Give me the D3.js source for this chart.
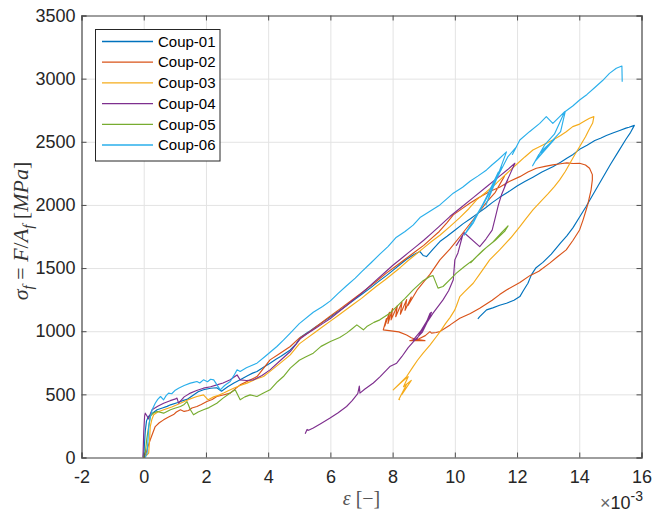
<!DOCTYPE html>
<html>
<head>
<meta charset="utf-8">
<script src="https://cdn.jsdelivr.net/npm/d3@7"></script>
<style>
  body { margin: 0; background: #fff; }
  svg { display: block; }
</style>
</head>
<body>
<svg id="plot1" width="654" height="513"></svg>
<script>
// strain values are in units of 1e-3, stress in MPa
var seriesNames = ["Coup-01", "Coup-02", "Coup-03", "Coup-04", "Coup-05", "Coup-06"];
var seriesColors = ["#0072BD", "#D95319", "#F5AC1B", "#7E2F8E", "#77AC30", "#2AAFEB"];
var xTicks = [-2, 0, 2, 4, 6, 8, 10, 12, 14, 16];
var yTicks = [0, 500, 1000, 1500, 2000, 2500, 3000, 3500];

var coup01 = [[0,0],[0.02,90],[0.05,210],[0.09,290],[0.15,325],[0.3,355],[0.43,378],[0.6,392],[0.75,405],[0.86,417],
  [1.1,435],[1.25,450],[1.39,460],[1.6,495],[1.75,520],[1.92,536],[2.15,548],[2.35,552],[2.5,525],[2.7,560],[2.9,590],
  [3.1,615],[3.35,650],[3.5,668],[3.64,681],[3.85,715],[4.06,747],[4.25,778],[4.4,800],[4.71,852],[4.9,900],[5.03,950],
  [5.3,995],[5.5,1030],[5.8,1080],[6.0,1113],[6.3,1165],[6.5,1200],[6.8,1255],[7.0,1290],[7.3,1345],[7.5,1385],
  [7.8,1440],[8.0,1480],[8.25,1530],[8.45,1570],[8.7,1610],[8.88,1631],[8.98,1600],[9.09,1591],[9.3,1650],[9.52,1710],
  [9.75,1752],[10.0,1800],[10.27,1852],[10.5,1890],[10.75,1935],[11.0,1980],[11.2,2018],[11.44,2060],[11.7,2100],
  [12.0,2150],[12.25,2185],[12.51,2220],[12.8,2260],[13.15,2303],[13.4,2338],[13.6,2370],[13.8,2400],[14.01,2440],
  [14.25,2472],[14.5,2510],[14.7,2530],[14.87,2550],[15.1,2572],[15.3,2590],[15.5,2608],[15.6,2615],[15.77,2630],
  [15.65,2575],[15.5,2520],[15.25,2420],[15.0,2320],[14.8,2235],[14.6,2150],[14.4,2065],[14.22,1987],[14.0,1900],
  [13.8,1820],[13.6,1755],[13.4,1700],[13.1,1610],[12.83,1545],[12.6,1500],[12.46,1446],[12.35,1380],[12.2,1320],
  [12.09,1274],[11.9,1245],[11.66,1222],[11.44,1205],[11.22,1185],[11.02,1169],[10.8,1116],[10.74,1098]];

var coup02 = [[0,0],[0.05,10],[0.12,75],[0.21,140],[0.3,200],[0.37,245],[0.5,275],[0.64,298],[0.8,320],[0.96,340],
  [1.05,360],[1.18,378],[1.3,365],[1.44,372],[1.55,392],[1.71,404],[1.85,420],[2.03,443],[2.2,460],[2.35,483],
  [2.55,495],[2.78,510],[2.95,545],[3.1,575],[3.35,605],[3.64,641],[3.85,705],[4.06,773],[4.35,820],[4.71,879],
  [5.0,945],[5.3,990],[5.65,1055],[6.0,1120],[6.3,1175],[6.6,1230],[6.9,1285],[7.2,1340],[7.5,1400],[7.8,1460],
  [8.1,1515],[8.4,1570],[8.7,1625],[9.0,1680],[9.25,1735],[9.5,1790],[9.75,1860],[9.95,1921],[10.2,1965],
  [10.48,2013],[10.75,2055],[11.02,2093],[11.25,2120],[11.44,2140],[11.75,2185],[12.09,2224],[12.35,2260],
  [12.62,2290],[12.9,2305],[13.15,2317],[13.4,2326],[13.6,2333],[13.8,2328],[14.01,2330],[14.2,2316],[14.33,2290],
  [14.42,2240],[14.42,2198],[14.38,2120],[14.33,2066],[14.28,2010],[14.22,1960],[14.12,1880],[14.01,1802],
  [13.8,1720],[13.58,1644],[13.3,1590],[13.05,1539],[12.7,1475],[12.41,1440],[12.09,1385],[11.66,1327],
  [11.44,1290],[11.2,1245],[10.8,1182],[10.5,1140],[10.16,1103],[9.85,1050],[9.52,997],[9.4,990],[9.25,985],
  [9.2,997],[9.05,965],[8.85,940],[8.66,932],[8.55,925],[9.04,925],[8.75,935],[8.6,948],[8.45,970],[8.2,995],
  [7.7,1011],[7.8,1100],[7.75,1040],[7.9,1150],[7.85,1060],[8.0,1180],[7.95,1090],[8.15,1200],[8.1,1115],
  [8.3,1230],[8.25,1135],[8.45,1250],[8.4,1165],[8.6,1270],[8.5,1205],[8.8,1330],[9.0,1390],[9.2,1450],
  [9.52,1565],[9.84,1650],[10.2,1760],[10.5,1855],[10.8,1950],[11.05,2030],[11.3,2100],[11.6,2230]];

var coup03 = [[0.0,0],[0.1,20],[0.16,35],[0.19,150],[0.21,245],[0.26,300],[0.32,338],[0.45,360],[0.64,378],
  [0.9,400],[1.05,415],[1.18,430],[1.45,460],[1.71,483],[1.92,496],[2.07,457],[2.25,480],[2.4,492],[2.57,510],
  [2.75,532],[2.89,549],[3.1,570],[3.32,589],[3.6,620],[3.85,641],[4.1,690],[4.39,747],[4.71,813],[5.0,900],
  [5.25,945],[5.5,990],[5.75,1035],[6.0,1080],[6.25,1125],[6.5,1170],[6.75,1215],[7.0,1260],[7.25,1310],
  [7.5,1360],[7.75,1405],[8.0,1455],[8.25,1505],[8.5,1560],[8.75,1610],[9.0,1660],[9.25,1710],[9.52,1760],
  [9.85,1830],[10.16,1900],[10.45,1970],[10.7,2040],[11.0,2100],[11.34,2172],[11.65,2245],[11.98,2320],
  [12.25,2380],[12.51,2435],[12.75,2465],[12.94,2488],[13.15,2514],[13.4,2550],[13.58,2580],[13.79,2620],
  [14.01,2640],[14.2,2668],[14.33,2686],[14.47,2699],[14.43,2648],[14.3,2590],[14.2,2540],[14.01,2461],
  [13.85,2395],[13.7,2330],[13.55,2265],[13.37,2198],[13.2,2145],[13.0,2090],[12.75,2025],[12.51,1960],
  [12.3,1895],[12.09,1828],[11.8,1740],[11.44,1644],[11.12,1565],[10.85,1470],[10.59,1380],[10.3,1310],
  [10.16,1274],[10.05,1200],[10.0,1169],[9.85,1110],[9.7,1060],[9.55,1005],[9.41,958],[9.2,890],[8.98,826],
  [8.8,770],[8.66,720],[8.45,641],[8.24,589],[8.02,536],[8.3,600],[8.5,640],[8.35,560],[8.6,610],[8.3,500],
  [8.45,580],[8.2,460],[8.24,457]];

var coup04 = [[-0.03,0],[-0.02,35],[0.0,200],[0.03,330],[0.05,351],[0.1,330],[0.16,305],[0.22,350],[0.27,378],
  [0.45,405],[0.64,430],[0.85,450],[1.0,462],[1.07,470],[1.12,430],[1.3,480],[1.5,510],[1.7,530],[1.92,549],
  [2.15,560],[2.35,575],[2.55,590],[2.78,615],[3.0,654],[3.1,615],[3.3,610],[3.53,615],[3.8,650],[4.06,694],
  [4.4,770],[4.71,839],[5.03,940],[5.25,980],[5.5,1020],[5.75,1060],[6.0,1100],[6.25,1150],[6.5,1200],
  [6.75,1250],[7.0,1300],[7.25,1355],[7.5,1410],[7.75,1465],[8.0,1520],[8.25,1570],[8.5,1620],[8.75,1670],
  [9.0,1720],[9.25,1775],[9.5,1830],[9.84,1908],[10.2,1980],[10.6,2060],[11.0,2140],[11.4,2220],[11.7,2280],
  [11.93,2330],[11.75,2230],[11.6,2150],[11.7,2200],[11.5,2080],[11.4,2000],[11.3,1900],[11.2,1800],
  [11.0,1730],[10.8,1670],[10.3,1780],[10.05,1680],[10.25,1760],[10.1,1620],[10.0,1565],[9.95,1407],
  [9.8,1320],[9.62,1248],[9.3,1143],[9.09,1064],[8.9,990],[8.77,935],[8.66,930],[8.9,1000],[9.1,1080],
  [9.2,1140],[9.25,1150],[9.15,1090],[8.95,990],[8.7,925],[8.5,870],[8.3,800],[8.13,747],[7.91,720],[7.6,640],
  [7.38,590],[7.1,540],[6.95,510],[6.93,565],[6.88,505],[6.7,450],[6.52,404],[6.25,355],[5.99,312],[5.7,270],
  [5.45,233],[5.3,215],[5.25,222],[5.19,188]];

var coup05 = [[0.0,0],[0.05,35],[0.1,150],[0.16,245],[0.21,325],[0.3,350],[0.43,364],[0.64,351],[0.86,378],
  [1.0,390],[1.18,404],[1.3,420],[1.39,443],[1.5,378],[1.6,338],[1.75,360],[1.92,378],[2.1,395],[2.35,430],
  [2.55,470],[2.78,510],[2.94,536],[3.1,457],[3.25,480],[3.42,496],[3.64,483],[3.85,510],[4.06,536],[4.3,600],
  [4.49,641],[4.71,708],[5.0,770],[5.2,795],[5.45,826],[5.7,880],[6.0,918],[6.3,950],[6.52,985],[6.7,1020],
  [6.85,1050],[7.06,1011],[7.17,1037],[7.4,1070],[7.59,1090],[7.91,1143],[8.13,1195],[8.4,1260],[8.66,1327],
  [8.98,1400],[9.2,1433],[9.3,1440],[9.46,1341],[9.62,1354],[9.85,1410],[10.05,1460],[10.3,1510],[10.59,1565],
  [10.9,1640],[11.2,1700],[11.5,1780],[11.71,1834],[11.6,1790],[11.3,1720],[11.0,1660],[10.7,1590],[10.5,1540]];

var coup06 = [[0.05,0],[0.11,35],[0.14,150],[0.16,245],[0.22,330],[0.27,378],[0.37,430],[0.45,460],[0.54,483],
  [0.64,457],[0.72,490],[0.8,510],[0.9,505],[1.0,530],[1.12,549],[1.3,570],[1.5,589],[1.6,595],[1.71,602],
  [1.8,590],[1.92,615],[2.05,600],[2.15,620],[2.25,615],[2.46,536],[2.6,570],[2.78,602],[2.9,650],[3.0,694],
  [3.1,681],[3.3,710],[3.64,747],[3.9,800],[4.28,879],[4.49,930],[4.71,985],[5.0,1060],[5.45,1150],[5.75,1195],
  [6.0,1240],[6.25,1300],[6.52,1360],[6.8,1420],[7.0,1470],[7.3,1540],[7.59,1610],[7.85,1670],[8.1,1740],
  [8.4,1790],[8.66,1840],[8.88,1900],[9.2,1950],[9.52,2000],[9.75,2050],[9.95,2093],[10.25,2140],[10.5,2190],
  [10.75,2230],[11.02,2277],[11.2,2318],[11.4,2360],[11.66,2420],[11.3,2180],[11.5,2300],[11.0,2000],
  [11.3,2200],[10.6,1860],[10.3,1760],[10.7,1920],[11.1,2090],[10.8,1950],[11.4,2260],[11.2,2140],[11.7,2380],
  [11.98,2460],[11.85,2400],[12.09,2514],[12.4,2580],[12.73,2646],[12.94,2699],[13.15,2646],[13.37,2699],
  [13.53,2738],[13.2,2560],[12.9,2480],[12.5,2310],[12.7,2400],[13.0,2470],[12.8,2430],[13.2,2520],[12.6,2350],
  [13.1,2500],[13.4,2580],[13.55,2740],[13.8,2785],[14.01,2831],[14.25,2875],[14.5,2930],[14.75,2985],
  [14.97,3042],[15.19,3082],[15.37,3100],[15.38,2976]];

var allSeries = [coup01, coup02, coup03, coup04, coup05, coup06];

var plot = d3.select("#plot1");
var pLeft = 81.5, pRight = 641.5, pTop = 15.5, pBottom = 457.5;

var xScale = d3.scaleLinear().domain([-2, 16]).range([pLeft, pRight]);
var yScale = d3.scaleLinear().domain([0, 3500]).range([pBottom, pTop]);
var plainNum = function (d) { return String(d); };

// grid
plot.append("g")
  .attr("transform", "translate(0," + pBottom + ")")
  .call(d3.axisBottom(xScale).tickValues(xTicks).tickSize(-(pBottom - pTop)).tickFormat(""))
  .call(function (g) { g.select(".domain").remove(); })
  .selectAll("line").attr("stroke", "#e3e3e3");
plot.append("g")
  .attr("transform", "translate(" + pLeft + ",0)")
  .call(d3.axisLeft(yScale).tickValues(yTicks).tickSize(-(pRight - pLeft)).tickFormat(""))
  .call(function (g) { g.select(".domain").remove(); })
  .selectAll("line").attr("stroke", "#e3e3e3");

// curves
var line = d3.line()
  .x(function (d) { return xScale(d[0]); })
  .y(function (d) { return yScale(d[1]); });

allSeries.forEach(function (s, i) {
  plot.append("path")
    .datum(s)
    .attr("d", line)
    .attr("fill", "none")
    .attr("stroke", seriesColors[i])
    .attr("stroke-width", 1.15)
    .attr("stroke-linejoin", "round");
});

// axes box with inward ticks on all four sides
var axisColor = "#4d4d4d";
var tickLen = 5;
var xb = plot.append("g").attr("transform", "translate(0," + pBottom + ")")
  .call(d3.axisBottom(xScale).tickValues(xTicks).tickSize(-tickLen).tickPadding(13).tickFormat(plainNum));
var xt = plot.append("g").attr("transform", "translate(0," + pTop + ")")
  .call(d3.axisTop(xScale).tickValues(xTicks).tickSize(-tickLen).tickFormat(""));
var yl = plot.append("g").attr("transform", "translate(" + pLeft + ",0)")
  .call(d3.axisLeft(yScale).tickValues(yTicks).tickSize(-tickLen).tickPadding(6).tickFormat(plainNum));
var yr = plot.append("g").attr("transform", "translate(" + pRight + ",0)")
  .call(d3.axisRight(yScale).tickValues(yTicks).tickSize(-tickLen).tickFormat(""));

[xb, xt, yl, yr].forEach(function (g) {
  g.select(".domain").attr("stroke", axisColor).attr("stroke-width", 1.2);
  g.selectAll(".tick line").attr("stroke", axisColor);
  g.selectAll("text")
    .attr("fill", "#262626")
    .style("font-family", "'Liberation Sans', Arial, sans-serif")
    .style("font-size", "18px");
});

// legend
var legend = plot.append("g");
legend.append("rect")
  .attr("x", 95.5).attr("y", 29.5)
  .attr("width", 124.5).attr("height", 131.5)
  .attr("fill", "#fff").attr("stroke", "#262626").attr("stroke-width", 1);
seriesNames.forEach(function (name, i) {
  var yy = 41.5 + i * 20.7;
  legend.append("line")
    .attr("x1", 102).attr("x2", 153)
    .attr("y1", yy).attr("y2", yy)
    .attr("stroke", seriesColors[i]).attr("stroke-width", 1.3);
  legend.append("text")
    .attr("x", 158).attr("y", yy).attr("dy", "0.35em")
    .attr("fill", "#000")
    .style("font-family", "'Liberation Sans', Arial, sans-serif")
    .style("font-size", "15px")
    .text(name);
});

// axis labels
var serif = "'Liberation Serif', 'DejaVu Serif', serif";
var xl = plot.append("text")
  .attr("x", (pLeft + pRight) / 2).attr("y", 505)
  .attr("text-anchor", "middle")
  .attr("fill", "#555")
  .style("font-family", serif).style("font-size", "20px");
xl.append("tspan").style("font-style", "italic").text("\u03b5");
xl.append("tspan").text(" [\u2212]");

var ylab = plot.append("text")
  .attr("transform", "translate(28,231) rotate(-90)")
  .attr("text-anchor", "middle")
  .attr("fill", "#333")
  .style("font-family", serif).style("font-size", "22px");
ylab.append("tspan").style("font-style", "italic").text("\u03c3");
ylab.append("tspan").style("font-style", "italic").style("font-size", "15px").attr("dy", 5).text("f");
ylab.append("tspan").attr("dy", -5).text(" = ");
ylab.append("tspan").style("font-style", "italic").text("F");
ylab.append("tspan").text("/");
ylab.append("tspan").style("font-style", "italic").text("A");
ylab.append("tspan").style("font-style", "italic").style("font-size", "15px").attr("dy", 5).text("f");
ylab.append("tspan").attr("dy", -5).text(" [");
ylab.append("tspan").style("font-style", "italic").text("MPa");
ylab.append("tspan").text("]");

// exponent note
var ex = plot.append("text")
  .attr("x", 643).attr("y", 509)
  .attr("text-anchor", "end")
  .attr("fill", "#262626")
  .style("font-family", "'Liberation Sans', Arial, sans-serif")
  .style("font-size", "18px");
ex.append("tspan").attr("fill", "#666").text("\u00d7");
ex.append("tspan").text("10");
ex.append("tspan").attr("dy", -8).style("font-size", "14px").text("-3");
</script>
</body>
</html>
